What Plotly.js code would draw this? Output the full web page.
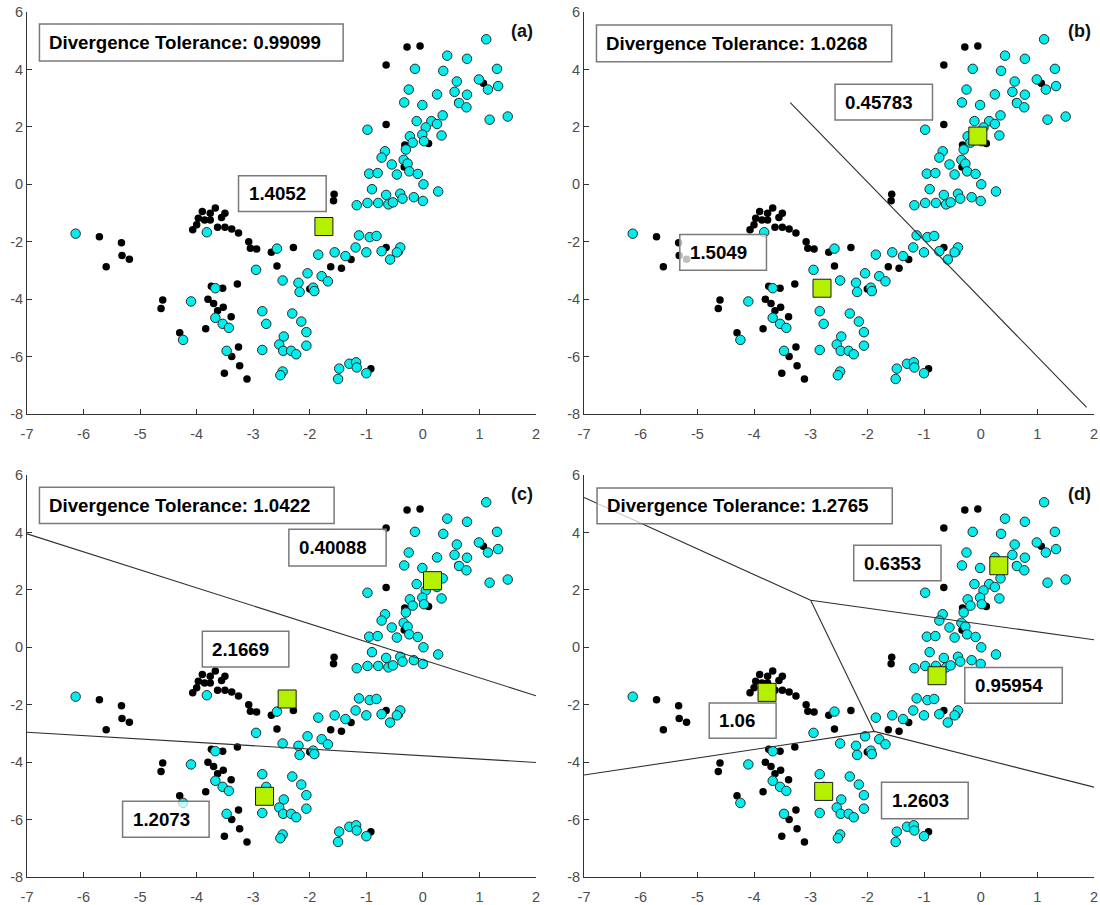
<!DOCTYPE html>
<html>
<head>
<meta charset="utf-8">
<script src="https://cdn.plot.ly/plotly-3.0.1.min.js"></script>
<style>
  html, body { margin: 0; padding: 0; background: #fff; }
  #chart { width: 1100px; height: 905px; }
</style>
</head>
<body>
<div id="chart"></div>
<script>
// Sample points: black (class 1) and cyan (class 2)
const blackX = [-0.28, -0.05, -0.65, 1.07, 0.62, -0.65, 0.10, -0.32, -0.33, -1.57, -1.58, -0.65, -0.42,
  -2.29, -2.68, -1.27, -2.58, -1.63, -1.44, -2.00, -0.92, -5.72, -5.33, -5.32, -5.19, -5.60,
  -3.90, -3.76, -3.67, -3.50, -3.56, -3.97, -3.86, -3.76, -4.00, -4.07, -3.63, -3.50, -3.38, -3.26, -3.08, -3.05, -2.94,
  -4.60, -4.63, -3.80, -3.70, -3.53, -3.63, -3.39, -3.84, -4.30, -3.38, -3.26, -3.51, -3.24, -3.11, -3.28, -3.74, -3.54];
const blackY = [4.78, 4.82, 4.15, 3.52, 2.86, 2.08, 1.42, 1.37, 0.60, -0.35, -0.57, -2.20, -2.35,
  -2.20, -2.37, -2.62, -2.85, -2.87, -2.92, -3.65, -6.42, -1.83, -2.04, -2.48, -2.61, -2.87,
  -0.95, -1.01, -0.83, -1.01, -1.16, -1.18, -1.24, -1.24, -1.41, -1.58, -1.50, -1.50, -1.56, -1.70, -2.00, -2.23, -2.25,
  -4.03, -4.33, -4.00, -4.15, -4.28, -4.40, -4.61, -5.03, -5.17, -6.00, -5.67, -6.58, -6.32, -6.78, -3.47, -3.55, -3.62];

const cyanX = [1.12, 0.43, 0.78, -0.14, 0.36, 1.31, 0.60, 0.99, 1.15, 1.33, -0.25, 0.25, 0.56, 0.78, -0.33, -0.01,
  0.64, 0.77, 1.18, 1.50, 0.35, -0.11, 0.15, 0.25, 0.05, -0.98, -0.01, 0.33, -0.23, -0.18, 0.02, -0.30, -0.67,
  -0.73, -0.34, -0.27, -0.55, -0.24, -0.09, -0.46, -0.95, -0.80, 0.01, -0.90, 0.27, -0.65, -0.40, -0.36, -0.16,
  0.00, -1.17, -0.98, -0.79, -0.61, -0.53,
  -1.13, -0.94, -0.82, -1.19, -1.00, -0.73, -0.40, -0.46, -0.58, -2.58, -1.85, -1.56, -1.37, -2.95, -2.04, -1.79,
  -1.68, -2.48, -2.20, -2.18, -1.94, -1.92,
  -2.31, -2.15, -2.84, -2.77, -2.06, -2.06, -2.46, -2.54, -2.47, -2.33, -2.24, -2.84, -2.48, -2.52, -1.48, -1.50,
  -1.30, -1.18, -1.17, -1.00,
  -6.14, -3.82, -4.10, -3.67, -3.67, -3.54, -3.43, -4.24, -3.47];
const cyanY = [5.05, 4.48, 4.37, 4.02, 3.95, 4.02, 3.58, 3.65, 3.30, 3.42, 3.30, 3.13, 3.22, 3.12, 2.85, 2.76,
  2.83, 2.68, 2.25, 2.36, 2.40, 2.20, 2.20, 2.10, 1.98, 1.90, 1.73, 1.70, 1.67, 1.45, 1.50, 1.21, 1.15,
  0.93, 0.85, 0.72, 0.69, 0.45, 0.36, 0.34, 0.37, 0.39, 0.00, -0.17, -0.25, -0.37, -0.33, -0.50, -0.45,
  -0.58, -0.73, -0.65, -0.65, -0.70, -0.63,
  -1.78, -1.84, -1.80, -2.20, -2.37, -2.33, -2.20, -2.37, -2.62, -2.24, -2.45, -2.37, -2.50, -2.98, -3.10, -3.20,
  -3.38, -3.35, -3.43, -3.75, -3.60, -3.72,
  -4.50, -4.78, -4.42, -4.86, -5.15, -5.62, -5.30, -5.58, -5.80, -5.80, -5.92, -5.77, -6.52, -6.65, -6.42, -6.78,
  -6.25, -6.20, -6.38, -6.58,
  -1.72, -1.67, -4.08, -3.62, -4.65, -4.86, -5.00, -5.42, -5.80];

// Cluster centres per panel
const centerXa = [-1.75];
const centerYa = [-1.47];
const centerXb = [-0.05, -2.80];
const centerYb = [1.68, -3.62];
const centerXc = [0.17, -2.40, -2.80];
const centerYc = [2.32, -1.80, -5.19];
const centerXd = [0.32, -0.77, -3.77, -2.77];
const centerYd = [2.84, -0.99, -1.57, -5.02];

// Partition boundaries per panel (null separates segments)
const boundaryXa = [];
const boundaryYa = [];
const boundaryXb = [-3.36, 1.87];
const boundaryYb = [2.84, -7.77];
const boundaryXc = [-7, 2, null, -7, 2];
const boundaryYc = [3.95, -1.69, null, -2.96, -4.01];
const boundaryXd = [-7, -3.00, 2, null, -3.00, -1.88, null, -7, -1.88, 2];
const boundaryYd = [5.22, 1.64, 0.26, null, 1.64, -2.93, null, -4.45, -2.93, -4.87];

// Text values
const toleranceValues = ['0.99099', '1.0268', '1.0422', '1.2765'];
const panelTags = ['(a)', '(b)', '(c)', '(d)'];
const clusterValuesA = ['1.4052'];
const clusterValuesB = ['0.45783', '1.5049'];
const clusterValuesC = ['0.40088', '2.1669', '1.2073'];
const clusterValuesD = ['0.6353', '0.95954', '1.06', '1.2603'];

// Axis ticks
const xTickVals = [-7, -6, -5, -4, -3, -2, -1, 0, 1, 2];
const xTickText = ['-7', '-6', '-5', '-4', '-3', '-2', '-1', '0', '1', '2'];
const yTickVals = [-8, -6, -4, -2, 0, 2, 4, 6];
const yTickText = ['-8', '-6', '-4', '-2', '0', '2', '4', '6'];

// ---- layout helpers ----
const FONT = 'Liberation Sans, Arial, Helvetica, sans-serif';

// label boxes: [x0, x1, yTop, yBottom] in data units
const toleranceBoxes = [
  [-6.78, -1.41, 5.58, 4.29],
  [-6.78, -1.57, 5.55, 4.27],
  [-6.78, -1.57, 5.57, 4.31],
  [-6.77, -1.56, 5.55, 4.30]
];
const valueBoxes = [
  [[-3.26, -1.71, 0.30, -0.95]],
  [[-2.57, -0.85, 3.48, 2.24], [-5.31, -3.78, -1.75, -2.99]],
  [[-2.37, -0.65, 4.11, 2.83], [-3.90, -2.37, 0.56, -0.69], [-5.31, -3.78, -5.36, -6.62]],
  [[-2.24, -0.70, 3.55, 2.32], [-0.28, 1.44, -0.70, -1.95], [-4.79, -3.61, -1.94, -3.17], [-1.75, -0.22, -4.70, -5.97]]
];

const panels = [
  { cx: centerXa, cy: centerYa, bx: boundaryXa, by: boundaryYa, values: clusterValuesA },
  { cx: centerXb, cy: centerYb, bx: boundaryXb, by: boundaryYb, values: clusterValuesB },
  { cx: centerXc, cy: centerYc, bx: boundaryXc, by: boundaryYc, values: clusterValuesC },
  { cx: centerXd, cy: centerYd, bx: boundaryXd, by: boundaryYd, values: clusterValuesD }
];

const W = 1100, H = 905;
const margin = { l: 27, r: 6, t: 12, b: 28 };
const pw = W - margin.l - margin.r, ph = H - margin.t - margin.b;
const xDomains = [[0, (536 - 27) / pw], [(584 - 27) / pw, 1]];
const yDomains = [[(877 - 414) / ph, 1], [0, (877 - 475) / ph]];

const traces = [];
const shapes = [];
const annotations = [];
const layout = {
  width: W, height: H, margin: margin,
  paper_bgcolor: '#ffffff', plot_bgcolor: '#ffffff',
  showlegend: false,
  font: { family: FONT }
};

function axis(extra) {
  return Object.assign({
    ticks: 'inside', ticklen: 5, tickwidth: 1, tickcolor: '#333333',
    showline: true, linecolor: '#333333', linewidth: 1,
    showgrid: false, zeroline: false, fixedrange: true,
    tickfont: { family: FONT, size: 14.5, color: '#4d4d4d' }
  }, extra);
}

panels.forEach((p, i) => {
  const n = i + 1;
  const xa = 'x' + (n === 1 ? '' : n), ya = 'y' + (n === 1 ? '' : n);
  const col = i % 2, row = Math.floor(i / 2);

  layout['xaxis' + (n === 1 ? '' : n)] = axis({
    domain: xDomains[col], anchor: ya, range: [-7, 2],
    tickvals: xTickVals, ticktext: xTickText, ticklabelstandoff: 7
  });
  layout['yaxis' + (n === 1 ? '' : n)] = axis({
    domain: yDomains[row], anchor: xa, range: [-8, 6],
    tickvals: yTickVals, ticktext: yTickText
  });

  traces.push({
    type: 'scatter', mode: 'markers', x: blackX, y: blackY, xaxis: xa, yaxis: ya,
    marker: { color: '#000000', size: 7.5, line: { width: 0 } }, hoverinfo: 'skip'
  });
  traces.push({
    type: 'scatter', mode: 'markers', x: cyanX, y: cyanY, xaxis: xa, yaxis: ya,
    marker: { color: '#00eeee', size: 9.5, line: { color: '#2a2a2a', width: 1 } }, hoverinfo: 'skip'
  });
  if (p.bx.length) {
    traces.push({
      type: 'scatter', mode: 'lines', x: p.bx, y: p.by, xaxis: xa, yaxis: ya,
      line: { color: '#2e2e2e', width: 1.1 }, connectgaps: false, hoverinfo: 'skip'
    });
  }
  traces.push({
    type: 'scatter', mode: 'markers', x: p.cx, y: p.cy, xaxis: xa, yaxis: ya,
    marker: { symbol: 'square', color: '#b4f000', size: 18, line: { color: '#1a1a1a', width: 1 } },
    hoverinfo: 'skip'
  });

  const boxes = [[toleranceBoxes[i], '<b>Divergence Tolerance: ' + toleranceValues[i] + '</b>']]
    .concat(valueBoxes[i].map((b, k) => [b, '<b>' + p.values[k] + '</b>']));
  boxes.forEach(([b, txt]) => {
    shapes.push({
      type: 'rect', xref: xa, yref: ya, x0: b[0], x1: b[1], y0: b[3], y1: b[2],
      fillcolor: 'rgba(255,255,255,0.75)', line: { color: '#7a7a7a', width: 1.5 }, layer: 'above'
    });
    annotations.push({
      xref: xa, yref: ya, x: b[0], y: (b[2] + b[3]) / 2, xanchor: 'left', yanchor: 'middle',
      xshift: 8, text: txt, showarrow: false,
      font: { family: FONT, size: 18.7, color: '#000000' }
    });
  });

  annotations.push({
    xref: xa, yref: ya, x: 2, y: 5.35, xanchor: 'right', yanchor: 'middle', xshift: -1,
    text: '<b>' + panelTags[i] + '</b>', showarrow: false,
    font: { family: FONT, size: 18, color: '#111111' }
  });
});

layout.shapes = shapes;
layout.annotations = annotations;

Plotly.newPlot('chart', traces, layout, { displayModeBar: false, staticPlot: true });
</script>
</body>
</html>
